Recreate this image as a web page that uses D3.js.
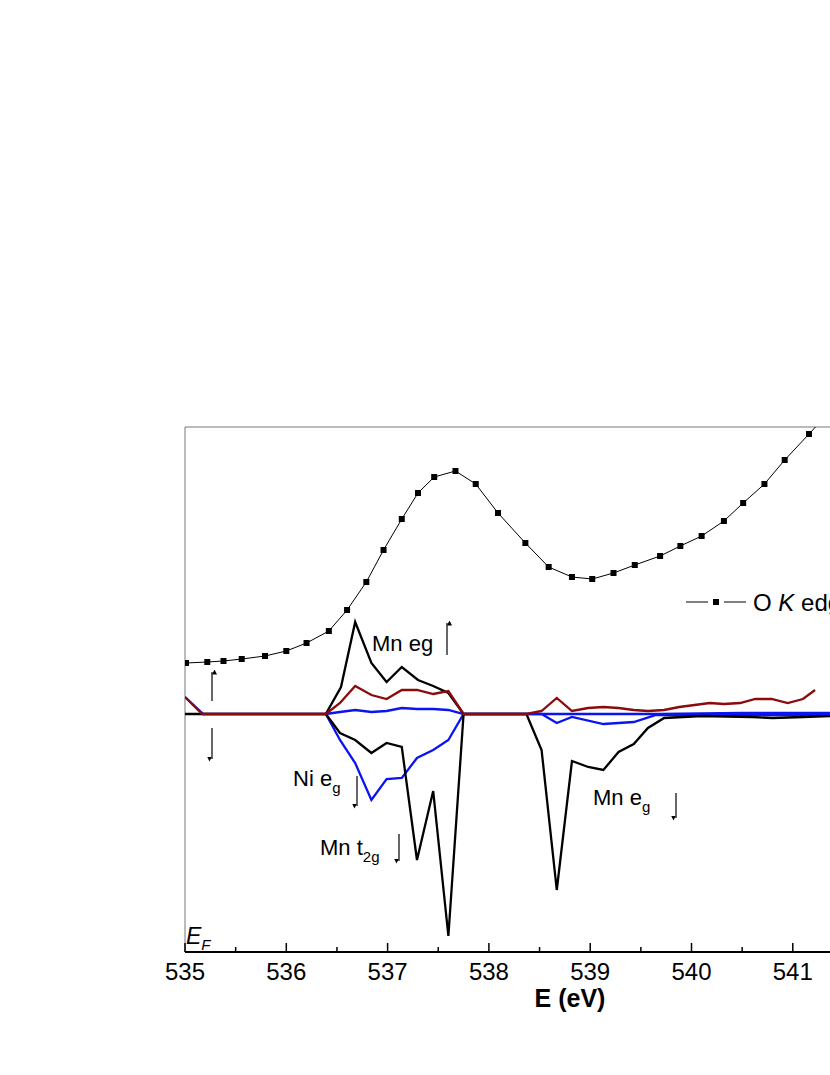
<!DOCTYPE html>
<html>
<head>
<meta charset="utf-8">
<script src="https://cdn.jsdelivr.net/npm/d3@7"></script>
<style>
  body { margin: 0; background: #fff; }
  svg { font-family: "Liberation Sans", Arial, sans-serif; display: block; }
</style>
</head>
<body>
<svg id="chart" width="830" height="1075"></svg>
<script>
// values: energy in eV, intensity in arbitrary units (0 = Fermi/zero line)
var oKE = [535.01, 535.22, 535.38, 535.56, 535.79, 536.0, 536.2, 536.42, 536.6, 536.79, 536.96, 537.14, 537.3, 537.46, 537.67, 537.87, 538.09, 538.36, 538.59, 538.82, 539.02, 539.23, 539.44, 539.69, 539.89, 540.1, 540.32, 540.51, 540.72, 540.92, 541.16, 541.38];
var oKI = [51, 52, 53, 55, 58, 63, 71, 83, 104, 132, 164, 195, 221, 237, 243, 230, 201, 171, 147, 137, 135, 141, 149, 158, 168, 178, 193, 211, 230, 254, 280, 304];

var mnUpE = [536.39, 536.54, 536.68, 536.84, 536.99, 537.14, 537.3, 537.45, 537.6, 537.75];
var mnUpI = [0, 27, 92, 51, 32, 47, 34, 28, 21, 0];

var mnDnE = [535.0, 536.39, 536.53, 536.68, 536.84, 536.99, 537.14, 537.29, 537.45, 537.6, 537.75, 538.37, 538.52, 538.67, 538.82, 538.98, 539.13, 539.28, 539.43, 539.57, 539.73, 540.1, 540.6, 540.8, 541.1, 541.4];
var mnDnI = [0, 0, -19, -26, -39, -29, -33, -146, -77, -222, 0, 0, -36, -176, -47, -53, -56, -38, -30, -14, -4, -2, -3, -4, -3, -2];

var niUpE = [535.0, 535.18, 536.39, 536.53, 536.68, 536.84, 536.99, 537.14, 537.29, 537.45, 537.6, 537.75, 539.7, 540.5, 541.4];
var niUpI = [17, 0, 0, 2, 4, 2, 3, 6, 5, 5, 4, 0, 0, 1, 1];

var niDnE = [536.39, 536.53, 536.68, 536.84, 536.99, 537.14, 537.29, 537.45, 537.6, 537.75, 538.37, 538.52, 538.67, 538.82, 539.13, 539.43, 539.65, 541.4];
var niDnI = [0, -26, -49, -86, -65, -64, -44, -36, -26, 0, 0, 0, -9, -3, -10, -8, -1, -1];

var redE = [535.0, 535.17, 536.39, 536.53, 536.68, 536.84, 536.99, 537.14, 537.29, 537.45, 537.6, 537.75, 538.37, 538.52, 538.67, 538.82, 538.98, 539.13, 539.28, 539.43, 539.57, 539.73, 539.88, 540.03, 540.18, 540.32, 540.48, 540.63, 540.79, 540.95, 541.1, 541.22];
var redI = [17, 0, 0, 11, 28, 19, 15, 24, 24, 20, 23, 0, 0, 3, 16, 3, 6, 7, 6, 4, 3, 4, 7, 9, 11, 10, 11, 15, 15, 11, 15, 24];

var xTicks = [535, 536, 537, 538, 539, 540, 541, 542];

(function() {
  var svg = d3.select("#chart");
  var pLeft = 185, pTop = 427, pBottom = 952;
  var x = d3.scaleLinear().domain([535, 542]).range([pLeft, pLeft + 7 * 101.3]);
  var y = d3.scaleLinear().domain([-238, 287]).range([pBottom, pTop]);

  var defs = svg.append("defs");
  defs.append("clipPath").attr("id", "clip")
    .append("rect").attr("x", pLeft).attr("y", pTop).attr("width", 830 - pLeft).attr("height", pBottom - pTop);
  defs.append("marker").attr("id", "ah")
    .attr("viewBox", "0 0 10 10").attr("refX", 5).attr("refY", 0)
    .attr("markerUnits", "userSpaceOnUse")
    .attr("markerWidth", 5).attr("markerHeight", 10).attr("orient", "auto")
    .append("path").attr("d", "M0,0 L10,5 L0,10 Z").attr("fill", "#000");

  // frame
  svg.append("line").attr("x1", pLeft).attr("x2", 830).attr("y1", pTop).attr("y2", pTop).attr("stroke", "#777").attr("stroke-width", 1);
  svg.append("line").attr("x1", pLeft).attr("x2", pLeft).attr("y1", pTop).attr("y2", pBottom).attr("stroke", "#777").attr("stroke-width", 1);

  var plot = svg.append("g").attr("clip-path", "url(#clip)");
  var line = d3.line().x(function(d) { return x(d[0]); }).y(function(d) { return y(d[1]); });
  function zip(a, b) { return a.map(function(v, i) { return [v, b[i]]; }); }

  plot.append("path").datum(zip(niUpE, niUpI)).attr("d", line).attr("fill", "none").attr("stroke", "#0a14f0").attr("stroke-width", 2.3);
  plot.append("path").datum(zip(niDnE, niDnI)).attr("d", line).attr("fill", "none").attr("stroke", "#0a14f0").attr("stroke-width", 2.3);
  plot.append("path").datum(zip(mnUpE, mnUpI)).attr("d", line).attr("fill", "none").attr("stroke", "#000").attr("stroke-width", 2.3);
  plot.append("path").datum(zip(mnDnE, mnDnI)).attr("d", line).attr("fill", "none").attr("stroke", "#000").attr("stroke-width", 2.3);
  plot.append("path").datum(zip(redE, redI)).attr("d", line).attr("fill", "none").attr("stroke", "#8b0a0a").attr("stroke-width", 2.3);

  plot.append("path").datum(zip(oKE, oKI)).attr("d", line).attr("fill", "none").attr("stroke", "#000").attr("stroke-width", 1);
  plot.selectAll("rect.pt").data(zip(oKE, oKI)).enter().append("rect").attr("class", "pt")
    .attr("x", function(d) { return x(d[0]) - 3; }).attr("y", function(d) { return y(d[1]) - 3; })
    .attr("width", 6).attr("height", 6).attr("fill", "#000");

  // x axis with inward ticks
  var ax = svg.append("g").attr("transform", "translate(0," + pBottom + ")");
  ax.append("line").attr("x1", pLeft).attr("x2", 830).attr("stroke", "#000").attr("stroke-width", 2);
  var minor = d3.range(535.5, 542, 1);
  ax.selectAll("line.mj").data(xTicks).enter().append("line").attr("class", "mj")
    .attr("x1", x).attr("x2", x).attr("y1", 0).attr("y2", -9).attr("stroke", "#000").attr("stroke-width", 1.5);
  ax.selectAll("line.mn").data(minor).enter().append("line").attr("class", "mn")
    .attr("x1", x).attr("x2", x).attr("y1", 0).attr("y2", -5).attr("stroke", "#000").attr("stroke-width", 1.5);
  ax.selectAll("text").data(xTicks.filter(function(d) { return x(d) < 810; })).enter().append("text")
    .attr("x", x).attr("y", 28).attr("text-anchor", "middle").attr("font-size", 24).text(function(d) { return d; });
  svg.append("text").attr("x", 570).attr("y", 1007).attr("text-anchor", "middle")
    .attr("font-size", 25).attr("font-weight", "bold").text("E (eV)");

  // E_F
  var ef = svg.append("text").attr("x", 186).attr("y", 944).attr("font-size", 23).attr("font-style", "italic");
  ef.append("tspan").text("E");
  ef.append("tspan").attr("dy", 6).attr("font-size", 15).text("F");

  // annotations
  function arrow(x0, y0, y1) {
    svg.append("line").attr("x1", x0).attr("x2", x0).attr("y1", y0).attr("y2", y1)
      .attr("stroke", "#000").attr("stroke-width", 1.2).attr("marker-end", "url(#ah)");
  }
  function label(tx, ty, main, sub) {
    var t = svg.append("text").attr("x", tx).attr("y", ty).attr("font-size", 22);
    t.append("tspan").text(main);
    if (sub) t.append("tspan").attr("dy", 7).attr("font-size", 15).text(sub);
  }
  label(372, 651, "Mn eg");
  arrow(447, 655, 623);
  arrow(212, 701, 672);
  arrow(212, 728, 759);
  label(293, 786, "Ni e", "g");
  arrow(357, 776, 806);
  label(320, 855, "Mn t", "2g");
  arrow(399, 834, 861);
  label(593, 805, "Mn e", "g");
  arrow(676, 793, 818);

  // legend
  var lg = svg.append("g");
  lg.append("line").attr("x1", 686).attr("x2", 708).attr("y1", 602).attr("y2", 602).attr("stroke", "#000").attr("stroke-width", 1);
  lg.append("rect").attr("x", 713).attr("y", 599).attr("width", 6).attr("height", 6).attr("fill", "#000");
  lg.append("line").attr("x1", 724).attr("x2", 746).attr("y1", 602).attr("y2", 602).attr("stroke", "#000").attr("stroke-width", 1);
  var lt = lg.append("text").attr("x", 753).attr("y", 611).attr("font-size", 24);
  lt.append("tspan").text("O ");
  lt.append("tspan").attr("font-style", "italic").text("K");
  lt.append("tspan").text(" edge");
})();
</script>
</body>
</html>
